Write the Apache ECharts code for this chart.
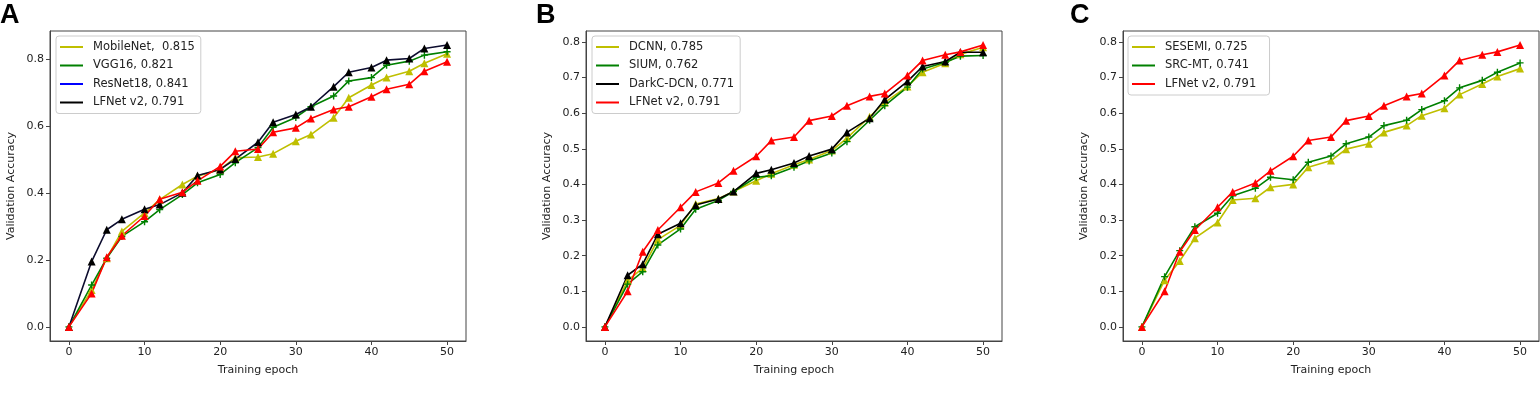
<!DOCTYPE html>
<html>
<head>
<meta charset="utf-8">
<script src="https://cdn.jsdelivr.net/npm/echarts@6/dist/echarts.min.js"></script>
<style>
  html, body { margin: 0; padding: 0; background: #fff; }
  #chart-container { width: 1540px; height: 394px; }
</style>
</head>
<body>
<div id="chart-container"></div>
<script>
// epochs where a value was logged
const epochs = [0, 3, 5, 7, 10, 12, 15, 17, 20, 22, 25, 27, 30, 32, 35, 37, 40, 42, 45, 47, 50];
const xTicks = [0, 10, 20, 30, 40, 50];
const yTicksA = [0, 0.2, 0.4, 0.6, 0.8];
const yTicksBC = [0, 0.1, 0.2, 0.3, 0.4, 0.5, 0.6, 0.7, 0.8];
const panelLetters = ['A', 'B', 'C'];

// shared: LFNet v2 (red line in panels B and C)
const lfnetV2 = [0, 0.10, 0.211, 0.272, 0.336, 0.379, 0.404, 0.438, 0.479, 0.523, 0.533, 0.579, 0.592, 0.621, 0.647, 0.655, 0.706, 0.748, 0.764, 0.772, 0.791];

// panel A
const mobileNet = [0, 0.11, 0.205, 0.285, 0.34, 0.38, 0.425, 0.45, 0.47, 0.505, 0.507, 0.517, 0.554, 0.574, 0.624, 0.684, 0.722, 0.744, 0.763, 0.787, 0.815];
const vgg16 = [0, 0.125, 0.205, 0.27, 0.314, 0.35, 0.395, 0.43, 0.455, 0.49, 0.535, 0.596, 0.625, 0.657, 0.689, 0.734, 0.744, 0.781, 0.793, 0.811, 0.821];
const resNet18 = [0, 0.195, 0.29, 0.321, 0.351, 0.365, 0.40, 0.452, 0.47, 0.501, 0.551, 0.611, 0.634, 0.657, 0.717, 0.760, 0.774, 0.796, 0.801, 0.831, 0.841];
const lfnetA = [0, 0.10, 0.208, 0.272, 0.331, 0.381, 0.402, 0.436, 0.479, 0.524, 0.531, 0.581, 0.594, 0.622, 0.649, 0.657, 0.687, 0.709, 0.724, 0.763, 0.791];

// panel B
const dcnn = [0, 0.13, 0.165, 0.245, 0.285, 0.345, 0.36, 0.38, 0.41, 0.43, 0.455, 0.47, 0.495, 0.53, 0.59, 0.63, 0.675, 0.715, 0.74, 0.765, 0.785];
const sium = [0, 0.12, 0.155, 0.23, 0.275, 0.33, 0.355, 0.38, 0.42, 0.424, 0.448, 0.466, 0.488, 0.52, 0.58, 0.621, 0.673, 0.724, 0.743, 0.76, 0.762];
const darkcDcn = [0, 0.145, 0.176, 0.26, 0.291, 0.342, 0.359, 0.38, 0.431, 0.441, 0.46, 0.48, 0.499, 0.546, 0.586, 0.638, 0.689, 0.731, 0.745, 0.771, 0.771];

// panel C
const sesemi = [0, 0.131, 0.185, 0.249, 0.293, 0.356, 0.361, 0.392, 0.40, 0.448, 0.467, 0.499, 0.514, 0.546, 0.565, 0.593, 0.614, 0.652, 0.682, 0.703, 0.725];
const srcMt = [0, 0.141, 0.214, 0.281, 0.319, 0.368, 0.389, 0.42, 0.413, 0.462, 0.48, 0.514, 0.533, 0.565, 0.58, 0.61, 0.635, 0.671, 0.692, 0.715, 0.741];

const pair = ys => epochs.map((x, i) => [x, ys[i]]);
const PLUS = 'path://M4,0H6V4H10V6H6V10H4V6H0V4H4Z';
const FONT = 'DejaVu Sans';
const TXT = '#222';

const line = (name, ys, gi, color, symbol, lineColor) => ({
  name: name,
  type: 'line',
  xAxisIndex: gi,
  yAxisIndex: gi,
  data: pair(ys),
  symbol: symbol,
  symbolSize: symbol === 'triangle' ? 8 : 7,
  showSymbol: true,
  itemStyle: { color: color, opacity: 1 },
  lineStyle: { color: lineColor || color, width: 1.6 },
  emphasis: { disabled: true },
  z: 2
});

const lefts = [50, 586, 1123];
const grids = lefts.map(l => ({ left: l, top: 31, width: 416, height: 310, show: true, borderColor: '#444', borderWidth: 1, backgroundColor: 'transparent' }));

const xAxes = lefts.map((l, i) => ({
  type: 'value', gridIndex: i, min: -2.5, max: 52.5,
  name: 'Training epoch', nameLocation: 'middle', nameGap: 24,
  nameTextStyle: { fontFamily: FONT, fontSize: 11, color: TXT },
  axisLine: { show: true, onZero: false, lineStyle: { color: '#444' } },
  axisTick: { show: true, customValues: xTicks, length: 4, lineStyle: { color: '#444' } },
  axisLabel: { customValues: xTicks, fontFamily: FONT, fontSize: 11, color: TXT, margin: 6 },
  splitLine: { show: false }
}));

const yAxes = lefts.map((l, i) => {
  const ticks = i === 0 ? yTicksA : yTicksBC;
  return {
    type: 'value', gridIndex: i,
    min: i === 0 ? -0.042 : -0.0396, max: i === 0 ? 0.883 : 0.8306,
    name: 'Validation Accuracy', nameLocation: 'middle', nameGap: 33, nameRotate: 90,
    nameTextStyle: { fontFamily: FONT, fontSize: 11, color: TXT },
    axisLine: { show: true, onZero: false, lineStyle: { color: '#444' } },
    axisTick: { show: true, customValues: ticks, length: 4, lineStyle: { color: '#444' } },
    axisLabel: { customValues: ticks, formatter: v => v.toFixed(1), fontFamily: FONT, fontSize: 11, color: TXT, margin: 6 },
    splitLine: { show: false }
  };
});

const legendBase = {
  orient: 'vertical', top: 36,
  backgroundColor: 'rgba(255,255,255,0.85)', borderColor: '#ccc', borderWidth: 1, borderRadius: 3,
  padding: [5, 6, 5, 4], icon: 'rect', itemWidth: 23, itemHeight: 2, itemGap: 6.5,
  textStyle: { fontFamily: FONT, fontSize: 11.5, color: TXT, padding: [0, 0, 0, 5] },
  selectedMode: false
};

const legends = [
  Object.assign({}, legendBase, { left: 56, data: [
    { name: 'MobileNet,  0.815', itemStyle: { color: '#bfbf00' } },
    { name: 'VGG16, 0.821', itemStyle: { color: '#008000' } },
    { name: 'ResNet18, 0.841', itemStyle: { color: '#0000ff' } },
    { name: 'LFNet v2, 0.791', itemStyle: { color: '#000000' } }
  ] }),
  Object.assign({}, legendBase, { left: 592, data: [
    { name: 'DCNN, 0.785', itemStyle: { color: '#bfbf00' } },
    { name: 'SIUM, 0.762', itemStyle: { color: '#008000' } },
    { name: 'DarkC-DCN, 0.771', itemStyle: { color: '#000000' } },
    { name: 'LFNet v2, 0.791 ', itemStyle: { color: '#ff0000' } }
  ] }),
  Object.assign({}, legendBase, { left: 1128, data: [
    { name: 'SESEMI, 0.725', itemStyle: { color: '#bfbf00' } },
    { name: 'SRC-MT, 0.741', itemStyle: { color: '#008000' } },
    { name: 'LFNet v2, 0.791  ', itemStyle: { color: '#ff0000' } }
  ] })
];

const series = [
  // A
  line('MobileNet,  0.815', mobileNet, 0, '#bfbf00', 'triangle'),
  line('VGG16, 0.821', vgg16, 0, '#008000', PLUS),
  line('ResNet18, 0.841', resNet18, 0, '#000000', 'triangle', '#0c0c2e'),
  line('LFNet v2, 0.791', lfnetA, 0, '#ff0000', 'triangle'),
  // B
  line('DCNN, 0.785', dcnn, 1, '#bfbf00', 'triangle'),
  line('SIUM, 0.762', sium, 1, '#008000', PLUS),
  line('DarkC-DCN, 0.771', darkcDcn, 1, '#000000', 'triangle'),
  line('LFNet v2, 0.791 ', lfnetV2, 1, '#ff0000', 'triangle'),
  // C
  line('SESEMI, 0.725', sesemi, 2, '#bfbf00', 'triangle'),
  line('SRC-MT, 0.741', srcMt, 2, '#008000', PLUS),
  line('LFNet v2, 0.791  ', lfnetV2, 2, '#ff0000', 'triangle')
];

const titles = panelLetters.map((t, i) => ({
  text: t, left: [0, 536, 1070][i], top: 2, padding: 0,
  textStyle: { fontFamily: 'Liberation Sans', fontSize: 27, fontWeight: 'bold', color: '#000' }
}));

const myChart = echarts.init(document.getElementById('chart-container'), null, { renderer: 'canvas' });
myChart.setOption({
  animation: false,
  backgroundColor: '#fff',
  title: titles,
  legend: legends,
  grid: grids,
  xAxis: xAxes,
  yAxis: yAxes,
  series: series
});
</script>
</body>
</html>
